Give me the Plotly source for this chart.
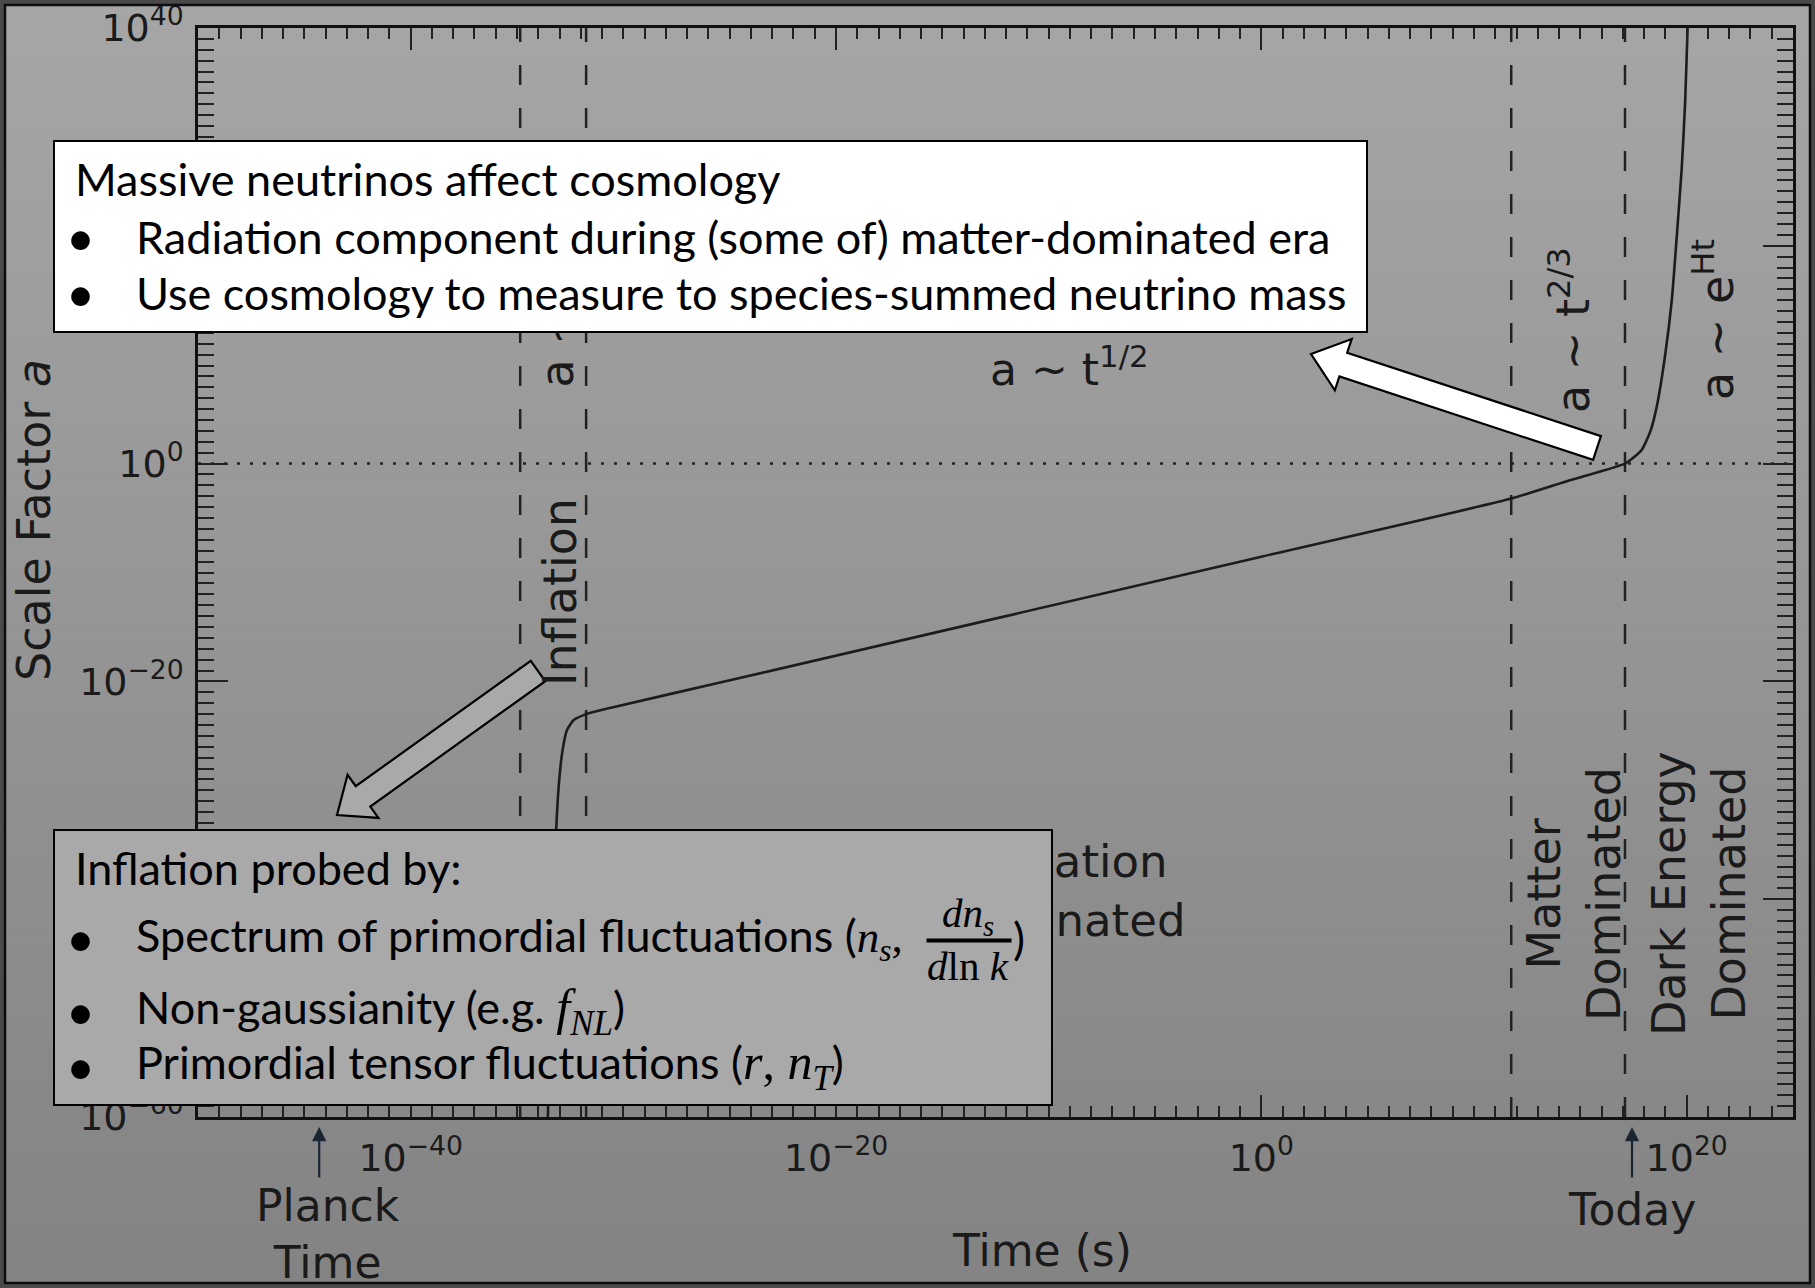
import math
import plotly.graph_objects as go

# ---- data -------------------------------------------------------------
# scale factor history, log10 t [s] vs log10 a
curve_log_t = [-33.55, -33.35, -33.15, -33.04, -32.88, -32.65, -32.33, -31.78,
               -30.53, -25.5, 0.0, 11.75, 14.4, 17.1, 17.5, 17.9, 18.3, 18.6,
               18.99, 19.3, 19.54, 19.77, 19.93, 20.04, 20.1]
curve_log_a = [-60.0, -45.0, -33.37, -29.67, -26.61, -24.47, -23.55, -23.03,
               -22.39, -20.13, -8.55, -3.21, -1.6, 0.0, 0.55, 1.3, 3.0, 5.3,
               10.0, 15.0, 21.0, 27.2, 33.3, 39.8, 43.0]

# era boundaries (log10 t): inflation start/end, matter-radiation equality, today
era_edges_log_t = [-34.85, -31.75, 11.75, 17.1]

planck_log_t = -44.3
today_log_t = 17.43

x_major_log = [-40, -20, 0, 20]
y_major_log = [-60, -40, -20, 0, 20, 40]
x_range_log = [-50, 25]
y_range_log = [-60, 40]


def pow_label(e):
    s = str(e).replace("-", "\u2212")
    return f"10<sup>{s}</sup>"


# ---- geometry ---------------------------------------------------------
FIG_W, FIG_H = 1815, 1288
L, R, T, B = 198, 1793, 28, 1117
W, H = R - L, B - T


def px(x):
    return (x - L) / W


def py(y):
    return (B - y) / H


LABEL = "DejaVu Sans"
BODY = "Lato"
MATH = "Liberation Serif"
INK = "#1a1a1a"

fig = go.Figure()

# era boundary lines
for e in era_edges_log_t:
    fig.add_trace(go.Scatter(
        x=[10 ** e, 10 ** e], y=[10.0 ** y_range_log[0], 10.0 ** y_range_log[1]],
        mode="lines", line=dict(color="#222222", width=2.5, dash="20px,23px"),
        hoverinfo="skip", showlegend=False))

# a = 1 reference
fig.add_trace(go.Scatter(
    x=[10.0 ** x_range_log[0], 10.0 ** x_range_log[1]], y=[1.0, 1.0],
    mode="lines", line=dict(color="#222222", width=2.5, dash="3px,10px"),
    hoverinfo="skip", showlegend=False))

# a(t)
fig.add_trace(go.Scatter(
    x=[10 ** v for v in curve_log_t], y=[10 ** v for v in curve_log_a],
    mode="lines", line=dict(color="#1c1c1c", width=2.6, shape="spline", smoothing=0.6),
    hoverinfo="skip", showlegend=False, cliponaxis=True))

axis_common = dict(
    type="log", showgrid=False, zeroline=False, showline=True, linecolor="#111111",
    linewidth=2.5, mirror="ticks", ticks="inside", tickcolor="#222222", tickwidth=2,
    tickmode="array", automargin=False, tickfont=dict(family=LABEL, size=38, color=INK),
)

fig.update_xaxes(
    **axis_common, range=x_range_log,
    tickvals=[10.0 ** e for e in x_major_log], ticktext=[pow_label(e) for e in x_major_log],
    ticklen=22, ticklabelstandoff=6,
    minor=dict(tickmode="array", tickvals=[10.0 ** k for k in range(x_range_log[0], x_range_log[1] + 1)],
               ticks="inside", ticklen=11, tickwidth=1.7, tickcolor="#222222"),
)
fig.update_yaxes(
    **axis_common, range=y_range_log,
    tickvals=[10.0 ** e for e in y_major_log], ticktext=[pow_label(e) for e in y_major_log],
    ticklen=30, ticklabelstandoff=4,
    minor=dict(tickmode="array", tickvals=[10.0 ** k for k in range(y_range_log[0], y_range_log[1] + 1)],
               ticks="inside", ticklen=16, tickwidth=2, tickcolor="#222222"),
)

# ---- background, frame and block arrows --------------------------------
shapes = []
n_bands = 90
for i in range(n_bands):
    y0 = FIG_H * i / n_bands
    y1 = FIG_H * (i + 1) / n_bands + 1
    g = round(166 - (166 - 131) * (i + 0.5) / n_bands)
    shapes.append(dict(type="rect", xref="paper", yref="paper", layer="below",
                       x0=px(0), x1=px(FIG_W), y0=py(y1), y1=py(y0),
                       fillcolor=f"rgb({g},{g},{g})", line=dict(width=0)))
shapes.append(dict(type="rect", xref="paper", yref="paper", layer="above",
                   x0=px(2), x1=px(FIG_W - 2), y0=py(FIG_H - 2), y1=py(2),
                   line=dict(color="#4a4a4a", width=4)))
shapes.append(dict(type="rect", xref="paper", yref="paper", layer="above",
                   x0=px(5), x1=px(FIG_W - 5), y0=py(FIG_H - 5), y1=py(5),
                   line=dict(color="#0d0d0d", width=2.5)))


def block_arrow(tail, tip, sw, hw, hl, fill):
    dx, dy = tip[0] - tail[0], tip[1] - tail[1]
    n = math.hypot(dx, dy)
    ux, uy = dx / n, dy / n
    nx, ny = -uy, ux
    bx, by = tip[0] - ux * hl, tip[1] - uy * hl
    pts = [
        (tail[0] + nx * sw / 2, tail[1] + ny * sw / 2),
        (bx + nx * sw / 2, by + ny * sw / 2),
        (bx + nx * hw / 2, by + ny * hw / 2),
        tip,
        (bx - nx * hw / 2, by - ny * hw / 2),
        (bx - nx * sw / 2, by - ny * sw / 2),
        (tail[0] - nx * sw / 2, tail[1] - ny * sw / 2),
    ]
    path = "M " + " L ".join(f"{px(x):.5f},{py(y):.5f}" for x, y in pts) + " Z"
    return dict(type="path", xref="paper", yref="paper", layer="above", path=path,
                fillcolor=fill, line=dict(color="black", width=2.2))


shapes.append(block_arrow((1597, 448), (1311, 354), 25, 54, 34, "white"))
shapes.append(block_arrow((538, 671), (337, 815), 25, 53, 32, "#a9a9a9"))

ann = []


def label(text, x, y, size, angle=0, xa="center", ya="middle", font=LABEL, color=INK, **kw):
    ann.append(dict(text=text, x=px(x), y=py(y), xref="paper", yref="paper",
                    xanchor=xa, yanchor=ya, textangle=angle, showarrow=False,
                    font=dict(family=font, size=size, color=color), **kw))


def panel(x0, y0, x1, y1, fill, bw=2):
    ann.append(dict(text=" ", x=px(x0), y=py(y0), xref="paper", yref="paper",
                    xanchor="left", yanchor="top", showarrow=False,
                    width=x1 - x0 - 2 * bw, height=y1 - y0 - 2 * bw, borderpad=0,
                    font=dict(size=2), bgcolor=fill, bordercolor="black", borderwidth=bw))


# plot annotations
label("a ~ e<sup>Ht</sup>", 553, 390, 46, angle=-90, ya="bottom")
label("Inflation", 560, 592, 46, angle=-90)
label("a ~ t<sup>1/2</sup>", 1069, 366, 44)
label("Radiation<br>Dominated", 1061, 891, 45)
label("a ~ t<sup>2/3</sup>", 1570, 330, 46, angle=-90)
label("a ~ e<sup>Ht</sup>", 1714, 320, 46, angle=-90)
label("Matter<br>Dominated", 1574, 894, 46, angle=-90)
label("Dark Energy<br>Dominated", 1699, 894, 46, angle=-90)
label("Scale Factor <i>a</i>", 34, 520, 46, angle=-90)
label("Time (s)", 1042, 1250, 44)
label("Planck<br>Time", 328, 1234, 44)
label("Today", 1632, 1209, 44)

# Planck time / today markers
for lt in (planck_log_t, today_log_t):
    ann.append(dict(x=lt, y=py(1127), xref="x", yref="paper", text="", showarrow=True,
                    ax=0, ay=52, arrowhead=2, arrowsize=1.3, arrowwidth=2.2,
                    arrowcolor="#1b2433"))

# text boxes (drawn over the plot labels they overlap)
panel(53, 140, 1368, 333, "white")
panel(53, 829, 1053, 1106, "#a9a9a9")

BS = 45
label("Massive neutrinos affect cosmology", 73, 179, BS, xa="left", font=BODY, color="black")
label("Radiation component during (some of) matter-dominated era", 134, 237, BS, xa="left", font=BODY, color="black")
label("Use cosmology to measure to species-summed neutrino mass", 134, 293, BS, xa="left", font=BODY, color="black")
for yy in (237, 293):
    label("\u2022", 81, yy, 50, font=BODY, color="black")

M = f"<span style='font-family:{MATH}'>"
MB = f"<span style='font-family:{MATH};font-size:50px'>"
label("Inflation probed by:", 73, 868, BS, xa="left", font=BODY, color="black")
label(f"Spectrum of primordial fluctuations ({M}<i>n<sub>s</sub></i>,</span>", 134, 938, BS, xa="left", font=BODY, color="black")
label("<i>dn<sub>s</sub></i>", 968, 916, 41, font=MATH, color="black")
label("<i>d</i>ln <i>k</i>", 968, 966, 41, font=MATH, color="black")
# fraction bar
ann.append(dict(text=" ", x=px(926), y=py(940), xref="paper", yref="paper",
                xanchor="left", yanchor="middle", showarrow=False, width=84, height=3,
                borderpad=0, font=dict(size=1), bgcolor="black"))
label(")", 1011, 938, BS, xa="left", font=BODY, color="black")
label(f"Non-gaussianity (e.g. {MB}<i>f<sub>NL</sub></i></span>)", 134, 1011, BS, xa="left", font=BODY, color="black")
label(f"Primordial tensor fluctuations ({MB}<i>r</i>, <i>n<sub>T</sub></i></span>)", 134, 1066, BS, xa="left", font=BODY, color="black")
for yy in (938, 1011, 1066):
    label("\u2022", 81, yy, 50, font=BODY, color="black")

fig.update_layout(
    width=FIG_W, height=FIG_H, autosize=False,
    margin=dict(l=L, r=FIG_W - R, t=T, b=FIG_H - B, pad=0),
    paper_bgcolor="#999999", plot_bgcolor="rgba(0,0,0,0)",
    shapes=shapes, annotations=ann, showlegend=False,
)

fig.write_html("out.html")
